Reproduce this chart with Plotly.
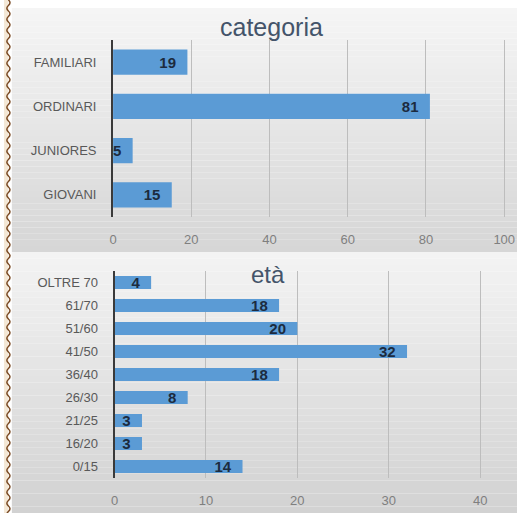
import plotly.graph_objects as go

# ---- data ----
cat_labels = ["FAMILIARI", "ORDINARI", "JUNIORES", "GIOVANI"]
cat_values = [19, 81, 5, 15]
cat_ticks = [0, 20, 40, 60, 80, 100]

age_labels = ["OLTRE 70", "61/70", "51/60", "41/50", "36/40", "26/30", "21/25", "16/20", "0/15"]
age_values = [4, 18, 20, 32, 18, 8, 3, 3, 14]
age_ticks = [0, 10, 20, 30, 40]

title_top = "categoria"
title_bottom = "età"

# ---- geometry helpers (pixels -> paper) ----
W, H = 522, 513
def px(x):
    return x / W
def py(y):
    return 1 - y / H

BAR = "#5B9BD5"
LABEL = "#1c2b3f"
FONT = "Liberation Sans, Arial, sans-serif"
pad = "\u00a0\u00a0"

fig = go.Figure()
fig.add_trace(go.Bar(
    orientation="h", x=cat_values, y=cat_labels, xaxis="x", yaxis="y",
    marker=dict(color=BAR, line=dict(width=0)),
    text=[f"<b>{v}</b>{pad}" for v in cat_values], textposition="inside",
    insidetextanchor="end", textangle=0, constraintext="none", cliponaxis=False,
    textfont=dict(family=FONT, size=15, color=LABEL), hoverinfo="skip",
))
fig.add_trace(go.Bar(
    orientation="h", x=age_values, y=age_labels, xaxis="x2", yaxis="y2",
    marker=dict(color=BAR, line=dict(width=0)),
    text=[f"<b>{v}</b>{pad}" for v in age_values], textposition="inside",
    insidetextanchor="end", textangle=0, constraintext="none", cliponaxis=False,
    textfont=dict(family=FONT, size=15, color=LABEL), hoverinfo="skip",
))

# ---- background panels (gradient strips) and decorative wavy border ----
shapes = []
def gradient(y0, y1, c0, c1, n=40):
    for i in range(n):
        a = y0 + (y1 - y0) * i / n
        b = y0 + (y1 - y0) * (i + 1) / n
        t = i / (n - 1)
        c = tuple(round(c0[k] + (c1[k] - c0[k]) * t) for k in range(3))
        shapes.append(dict(type="rect", xref="paper", yref="paper", layer="below",
                           x0=px(8), x1=1, y0=py(b), y1=py(a),
                           fillcolor=f"rgb{c}", line=dict(width=0)))

gradient(8, 252, (245, 245, 245), (214, 214, 214))
gradient(252, 513, (243, 243, 243), (210, 210, 210))

shapes.append(dict(type="rect", xref="paper", yref="paper", layer="below",
                   x0=0, x1=px(4.5), y0=0, y1=1,
                   fillcolor="#f4e8d6", line=dict(width=0)))
cx, amp, half = 4.5, 1.6, 5.5
path = f"M {px(cx)},{py(0)}"
y = 0.0
side = 1
while y < H:
    path += f" Q {px(cx + side * 2 * amp)},{py(y + half / 2)} {px(cx)},{py(y + half)}"
    y += half
    side = -side
shapes.append(dict(type="path", xref="paper", yref="paper", layer="above",
                   path=path, line=dict(color="#7a4a24", width=1.5)))

tick_font = dict(family=FONT, size=13, color="#7f7f7f")
cat_font = dict(family=FONT, size=13, color="#595959")
grid = "#bdbdbd"

fig.update_layout(
    width=W, height=H, margin=dict(l=0, r=0, t=0, b=0),
    paper_bgcolor="white", plot_bgcolor="rgba(0,0,0,0)",
    showlegend=False, bargap=0.43, shapes=shapes,
    xaxis=dict(domain=[px(111), px(515)], range=[0, 404 / 3.98], anchor="y",
               tickvals=cat_ticks, showgrid=True, gridcolor=grid, gridwidth=1,
               zeroline=False, showline=False, ticks="outside", ticklen=10,
               tickcolor="rgba(0,0,0,0)", tickfont=tick_font, fixedrange=True),
    yaxis=dict(domain=[py(217), py(40)], autorange="reversed", anchor="x",
               showline=True, linecolor="#3a3a3a", linewidth=2, showgrid=False,
               ticks="outside", ticklen=12, tickcolor="rgba(0,0,0,0)",
               tickfont=cat_font, fixedrange=True),
    xaxis2=dict(domain=[px(112.5), px(515)], range=[0, 402.5 / 9.3], anchor="y2",
                tickvals=age_ticks, showgrid=True, gridcolor=grid, gridwidth=1,
                zeroline=False, showline=False, ticks="outside", ticklen=10,
                tickcolor="rgba(0,0,0,0)", tickfont=tick_font, fixedrange=True),
    yaxis2=dict(domain=[py(478), py(271)], autorange="reversed", anchor="x2",
                showline=True, linecolor="#3a3a3a", linewidth=2, showgrid=False,
                ticks="outside", ticklen=12, tickcolor="rgba(0,0,0,0)",
                tickfont=cat_font, fixedrange=True),
    annotations=[
        dict(text=title_top, xref="paper", yref="paper", x=px(272), y=py(27),
             showarrow=False, xanchor="center", yanchor="middle",
             font=dict(family=FONT, size=25, color="#44546A")),
        dict(text=title_bottom, xref="paper", yref="paper", x=px(269), y=py(274),
             showarrow=False, xanchor="center", yanchor="middle",
             font=dict(family=FONT, size=24, color="#44546A")),
    ],
)

fig.write_html(
    "out.html",
    config={"displayModeBar": False},
    post_script="document.body.style.margin='0';document.body.style.padding='0';",
)
